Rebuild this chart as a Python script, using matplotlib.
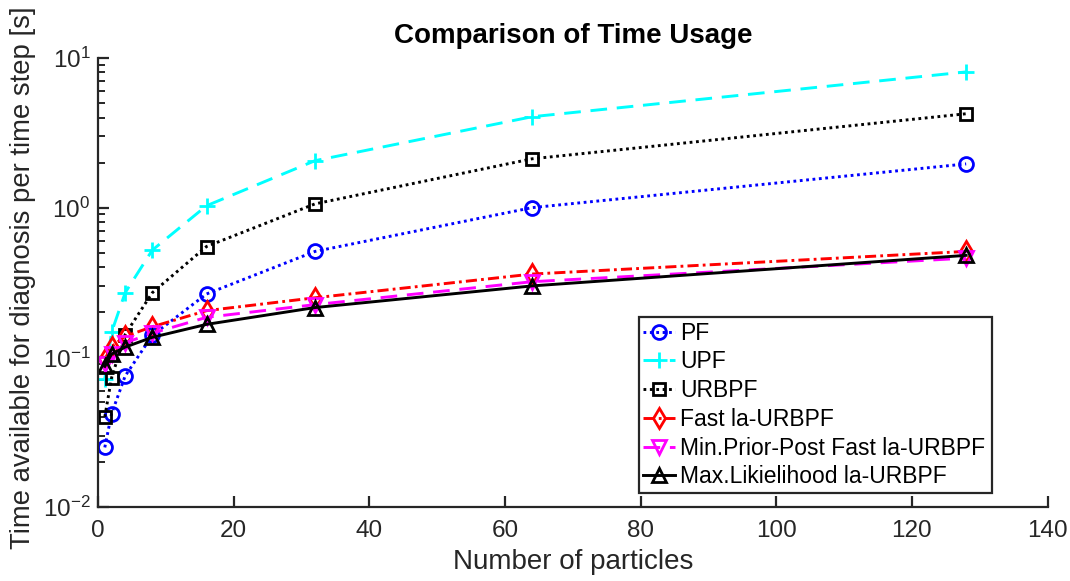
import matplotlib

matplotlib.use("Agg")

from matplotlib import pyplot
from matplotlib.ticker import LogLocator, NullFormatter

pyplot.rcParams["font.family"] = ["Liberation Sans", "DejaVu Sans"]
pyplot.rcParams["lines.scale_dashes"] = False

# Number of particles
particles = [1, 2, 4, 8, 16, 32, 64, 128]

# Time available per time step [s]
pf = [0.025, 0.042, 0.075, 0.14, 0.265, 0.51, 1.0, 1.96]
upf = [0.072, 0.147, 0.27, 0.52, 1.03, 2.06, 4.05, 8.07]
urbpf = [0.040, 0.073, 0.142, 0.27, 0.55, 1.06, 2.12, 4.24]
fast_la = [0.097, 0.118, 0.138, 0.16, 0.205, 0.25, 0.36, 0.51]
min_prior_post = [0.09, 0.105, 0.125, 0.145, 0.185, 0.225, 0.32, 0.46]
max_likelihood = [0.087, 0.105, 0.117, 0.136, 0.166, 0.215, 0.30, 0.48]

labels = [
    "PF",
    "UPF",
    "URBPF",
    "Fast la-URBPF",
    "Min.Prior-Post Fast la-URBPF",
    "Max.Likielihood la-URBPF",
]

dotted = (0, (2, 2.6))
dashed = (0, (12, 7))
dashdot = (0, (8, 3, 2, 3))

fig = pyplot.figure(figsize=(10.70, 5.81), dpi=100)
ax = fig.add_axes([0.0916, 0.1274, 0.8874, 0.7728])

common = dict(lw=2.1, mew=2, mfc="none")
ax.plot(particles, pf, ls=dotted, marker="o", ms=10, c="#0000ff", label=labels[0], **common)
ax.plot(particles, upf, ls=dashed, marker="+", ms=12, c="#00ffff", label=labels[1], **common)
ax.plot(particles, urbpf, ls=dotted, marker="s", ms=8.5, c="black", label=labels[2], **common)
ax.plot(particles, fast_la, ls=dashdot, marker="d", ms=10, c="#ff0000", label=labels[3], **common)
ax.plot(particles, min_prior_post, ls=dashed, marker="v", ms=10, c="#ff00ff", label=labels[4], **common)
ax.plot(particles, max_likelihood, ls="-", marker="^", ms=10, c="black", label=labels[5], **common)

ax.set_yscale("log")
ax.set_xlim(0, 140)
ax.set_ylim(1e-2, 1e1)
ax.set_xticks(range(0, 141, 20))
ax.yaxis.set_minor_locator(LogLocator(base=10, subs=range(2, 10)))
ax.yaxis.set_minor_formatter(NullFormatter())

for side in ("top", "right"):
    ax.spines[side].set_visible(False)
for side in ("left", "bottom"):
    ax.spines[side].set_color("#262626")
    ax.spines[side].set_linewidth(1.6)

ax.tick_params(which="major", direction="in", length=8, width=1.6, colors="#262626",
               labelsize=17.5, labelcolor="#262626")
ax.tick_params(axis="x", pad=9.5)
ax.tick_params(axis="y", pad=5.5)
ax.tick_params(which="minor", direction="in", length=5, width=1.4, colors="#262626")

ax.set_title("Comparison of Time Usage", fontsize=20, fontweight="bold", pad=11)
ax.set_xlabel("Number of particles", fontsize=20, color="#262626", labelpad=5)
ax.set_ylabel("Time available for diagnosis per time step [s]", fontsize=19.8,
              color="#262626")
ax.yaxis.set_label_coords(-0.065, 0.511)

leg = ax.legend(loc="lower left", bbox_to_anchor=(0.597, 0.1515, 0.33, 0.3065),
                bbox_transform=fig.transFigure, mode="expand", fontsize=16.5,
                fancybox=False, framealpha=1, borderaxespad=0, handlelength=1.4,
                handletextpad=0.2, labelspacing=0.25, borderpad=0.2)
leg.get_frame().set_edgecolor("#262626")
leg.get_frame().set_linewidth(1.6)

fig.savefig("out.png")
pyplot.close(fig)
